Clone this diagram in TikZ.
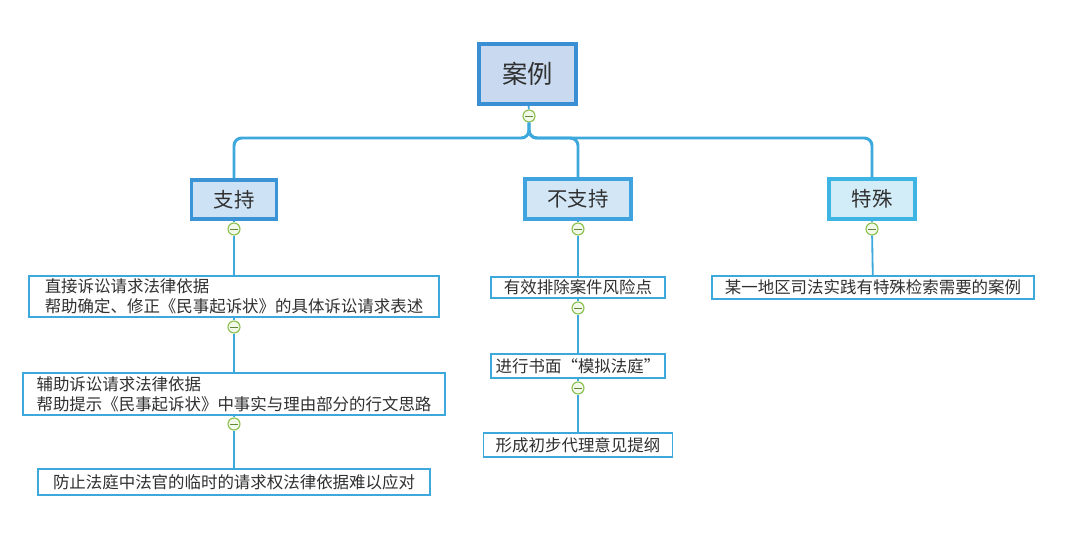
\documentclass[tikz,border=0pt]{standalone}
\usepackage{fontspec}
\setmainfont{Noto Sans CJK SC}
\usetikzlibrary{positioning}
\definecolor{inkgray}{RGB}{48,48,48}
\definecolor{linkcol}{RGB}{61,168,220}
\definecolor{rootline}{RGB}{58,142,212}
\definecolor{rootfill}{RGB}{200,217,240}
\definecolor{supline}{RGB}{58,148,214}
\definecolor{supfill}{RGB}{206,226,245}
\definecolor{nsupline}{RGB}{62,163,222}
\definecolor{nsupfill}{RGB}{210,230,246}
\definecolor{specline}{RGB}{61,180,227}
\definecolor{specfill}{RGB}{211,237,248}
\definecolor{markline}{RGB}{140,193,82}
\definecolor{markfill}{RGB}{243,249,232}

\begin{document}
\begin{tikzpicture}[x=0.025cm, y=-0.025cm,
  root/.style={draw=rootline, fill=rootfill, line width=2.8pt, rectangle,
               minimum width=2.43cm, minimum height=1.5cm,
               font=\fontsize{18}{21}\selectfont, text=inkgray},
  topic/.style={draw=#1line, fill=#1fill, line width=2.6pt, rectangle,
                minimum height=0.99cm, font=\fontsize{14.5}{17}\selectfont, text=inkgray},
  leaf/.style={draw=linkcol, fill=white, line width=1.3pt, rectangle,
               align=left, font=\fontsize{11.7}{14.2}\selectfont, text=inkgray,
               inner sep=1pt},
  marker/.style={circle, draw=markline, fill=markfill, line width=0.8pt,
                 minimum size=0.3cm, inner sep=0pt,
                 path picture={\draw[markline!70!black, line width=0.7pt]
                   ([xshift=-2.5pt]path picture bounding box.center) -- ++(5pt,0);}},
  trunk/.style={draw=linkcol, line width=2.1pt, rounded corners=5.5pt},
  twig/.style={draw=linkcol, line width=1.3pt}
]
\useasboundingbox (0,0) rectangle (1080,538);

\node[root]                                (case) at (527.5,74) {案例};
\node[topic=sup, minimum width=2.13cm]     (sup)  at (234,199.5) {支持};
\node[topic=nsup, minimum width=2.65cm]    (nsup) at (578,199) {不支持};
\node[topic=spec, minimum width=2.15cm]    (spec) at (872,199) {特殊};

\node[leaf, minimum width=10.25cm, minimum height=1.03cm] (sup1) at (234,296.5)
  {直接诉讼请求法律依据\\帮助确定、修正《民事起诉状》的具体诉讼请求表述};
\node[leaf, minimum width=10.55cm, minimum height=1.05cm] (sup2) at (234,394)
  {辅助诉讼请求法律依据\\帮助提示《民事起诉状》中事实与理由部分的行文思路};
\node[leaf, minimum width=9.8cm, minimum height=0.65cm]   (sup3) at (234,482)
  {防止法庭中法官的临时的请求权法律依据难以应对};
\node[leaf, minimum width=4.35cm, minimum height=0.53cm]  (nsup1) at (578,287.5) {有效排除案件风险点};
\node[leaf, minimum width=4.35cm, minimum height=0.6cm]   (nsup2) at (578,366) {进行书面“模拟法庭”};
\node[leaf, minimum width=4.72cm, minimum height=0.6cm]   (nsup3) at (578,445) {形成初步代理意见提纲};
\node[leaf, minimum width=8.05cm, minimum height=0.58cm]  (spec1) at (873,287.5) {某一地区司法实践有特殊检索需要的案例};

\node[marker] (mcase)  at (529,116) {};
\node[marker] (msup)   at (234,229) {};
\node[marker] (msup1)  at (234,327) {};
\node[marker] (msup2)  at (234,424) {};
\node[marker] (mnsup)  at (578,229) {};
\node[marker] (mnsup1) at (578,308) {};
\node[marker] (mnsup2) at (578,388) {};
\node[marker] (mspec)  at (872,229) {};

\coordinate (split) at (529,138);
\draw[twig]  (case) -- (mcase);
\draw[trunk] (mcase) -- (split) -| (sup.north);
\draw[trunk] (mcase) -- (split) -| (nsup.north);
\draw[trunk] (mcase) -- (split) -| (spec.north);

\draw[twig] (sup) -- (msup);
\draw[twig] (msup) -- (sup1);
\draw[twig] (sup1) -- (msup1);
\draw[twig] (msup1) -- (sup2);
\draw[twig] (sup2) -- (msup2);
\draw[twig] (msup2) -- (sup3);

\draw[twig] (nsup) -- (mnsup);
\draw[twig] (mnsup) -- (nsup1);
\draw[twig] (nsup1) -- (mnsup1);
\draw[twig] (mnsup1) -- (nsup2);
\draw[twig] (nsup2) -- (mnsup2);
\draw[twig] (mnsup2) -- (nsup3);

\draw[twig] (spec) -- (mspec);
\draw[twig] (mspec) -- (spec1);
\end{tikzpicture}
\end{document}
